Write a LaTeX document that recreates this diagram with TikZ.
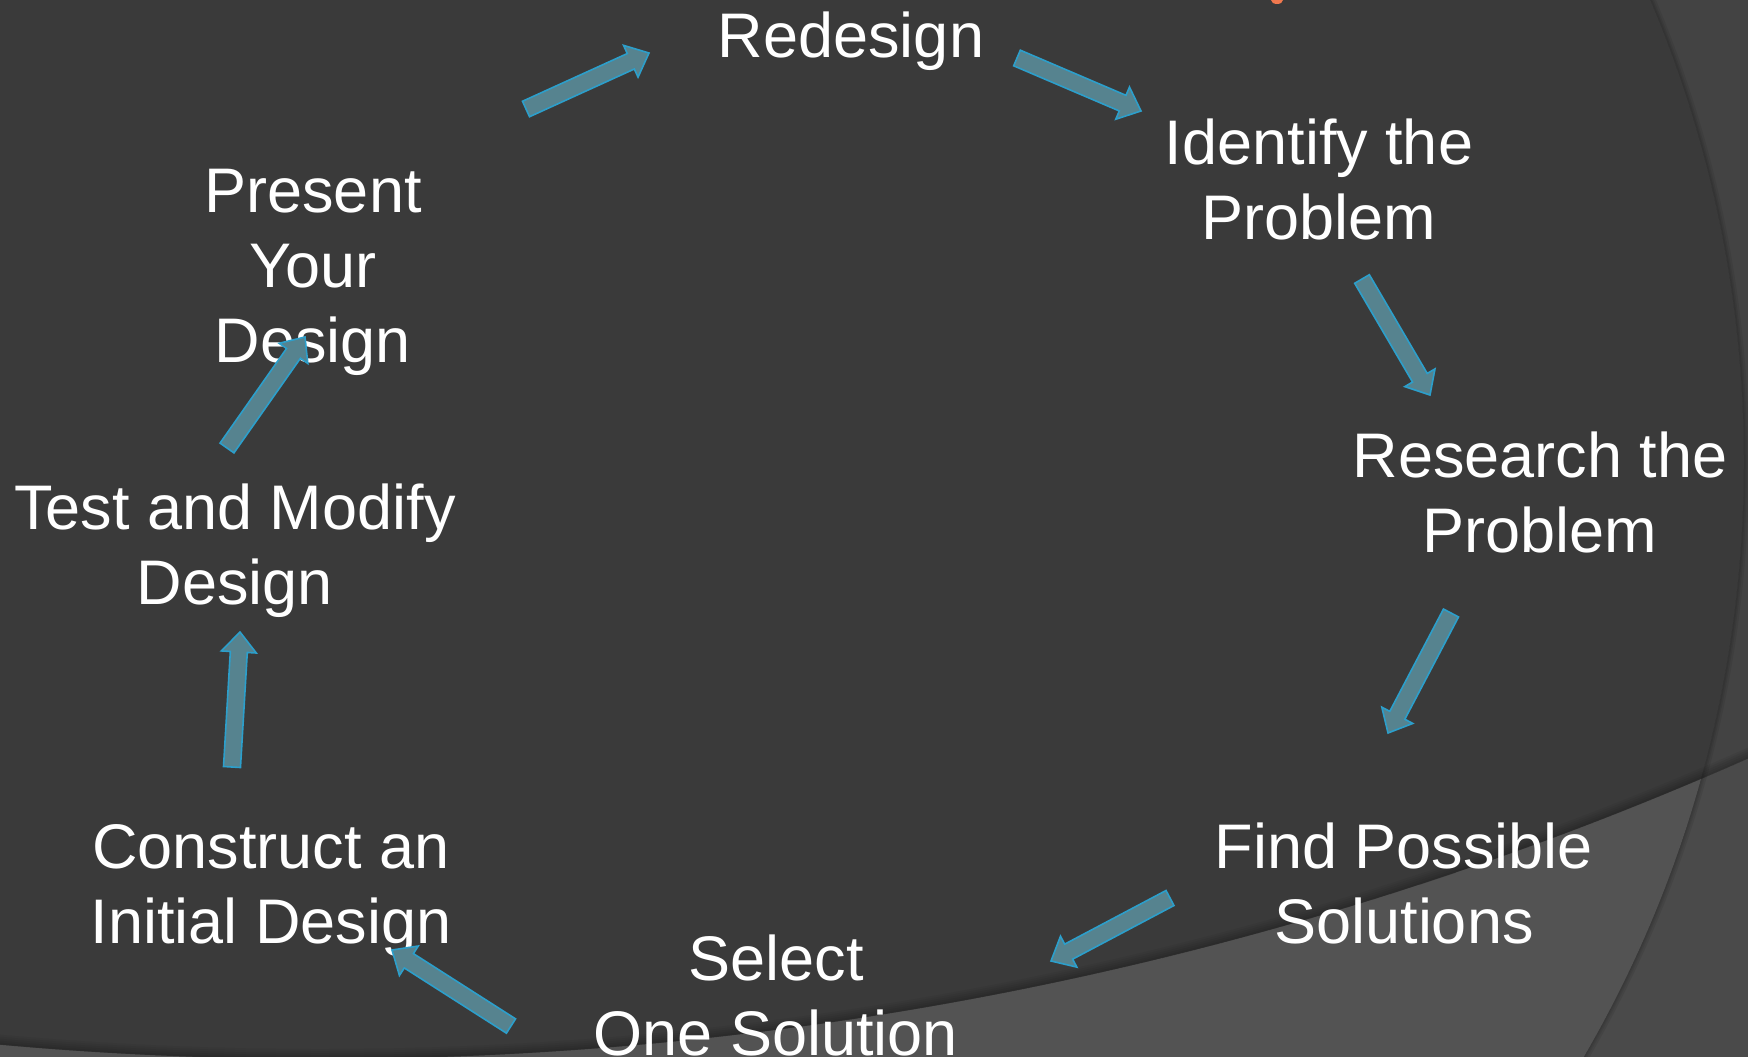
\documentclass[tikz,border=0pt]{standalone}
\usepackage{fontspec}
\setmainfont{Liberation Sans}
\usetikzlibrary{calc}
\definecolor{bgin}{HTML}{3A3A3A}
\definecolor{bgout}{HTML}{434343}
\definecolor{lowin}{HTML}{535353}
\definecolor{lowout}{HTML}{4A4A4A}
\definecolor{arrfill}{HTML}{56838F}
\definecolor{arrline}{HTML}{2C9FCB}
\definecolor{titleorange}{HTML}{F0784E}
\newcommand\blockarrow[2]{%
  \coordinate (#2-hb) at ($(#2)!20pt!(#1)$);
  \draw[barrow] ($(#1)!8.5pt!90:(#2)$) -- ($(#2-hb)!8.5pt!-90:(#1)$)
    -- ($(#2-hb)!17.5pt!-90:(#1)$) -- (#2) -- ($(#2-hb)!17.5pt!90:(#1)$)
    -- ($(#2-hb)!8.5pt!90:(#1)$) -- ($(#1)!8.5pt!-90:(#2)$) -- cycle;}
\tikzset{
  lbl/.style={text=white, font=\fontsize{63}{75}\selectfont, align=center, inner sep=0pt, anchor=base},
  barrow/.style={fill=arrfill, draw=arrline, line width=1.6pt, line join=miter},
}
\begin{document}
\begin{tikzpicture}[x=1pt,y=-1pt]
\useasboundingbox (0,0) rectangle (1748,1057);
\begin{scope}
  \clip (0,0) rectangle (1748,1057);
  \fill[bgout] (0,0) rectangle (1748,1057);
  \fill[lowout, even odd rule] (0,0) rectangle (1748,1057) (320,-2474) circle[radius=3533pt];
  \fill[bgin] (560,462) circle[radius=1184pt];
  \begin{scope}
    \clip (560,462) circle[radius=1184pt];
    \fill[lowin, even odd rule] (-10,-10) rectangle (1760,1070) (320,-2474) circle[radius=3533pt];
  \end{scope}
  \begin{scope}
    \clip (320,-2474) circle[radius=3533pt];
    \foreach \w in {4,8,12,16,20}
      \draw[black, opacity=0.05, line width=\w pt] (320,-2474) circle[radius=3533pt];
  \end{scope}
  \begin{scope}[even odd rule]
    \clip (-10,-10) rectangle (1760,1070) (560,462) circle[radius=1184pt];
    \foreach \w in {3,6,10}
      \draw[black, opacity=0.07, line width=\w pt] (560,462) circle[radius=1184pt];
  \end{scope}
  \fill[titleorange] (1277,0) ellipse[x radius=6pt, y radius=4pt];
\end{scope}

\node[lbl] (redesign)  at (851,58)  {Redesign};
\node[lbl] (identify)  at (1319,239) {Identify the\\Problem};
\node[lbl] (research)  at (1540,552) {Research the\\Problem};
\node[lbl] (find)      at (1404,943) {Find Possible\\Solutions};
\node[lbl] (select)    at (776,1055) {Select\\One Solution};
\node[lbl] (construct) at (271,943)  {Construct an\\Initial Design};
\node[lbl] (test)      at (235,604)  {Test and Modify\\Design};
\node[lbl] (present)   at (313,362)  {Present\\Your\\Design};

\coordinate (a1s) at (526,109);  \coordinate (a1e) at (649,53);
\coordinate (a2s) at (1017,58);  \coordinate (a2e) at (1141,111);
\coordinate (a3s) at (1362,279); \coordinate (a3e) at (1430,395);
\coordinate (a4s) at (1451,613); \coordinate (a4e) at (1388,733);
\coordinate (a5s) at (1170,898); \coordinate (a5e) at (1051,961);
\coordinate (a6s) at (511,1026); \coordinate (a6e) at (392,950);
\coordinate (a7s) at (232,767);  \coordinate (a7e) at (240,632);
\coordinate (a8s) at (227,448);  \coordinate (a8e) at (305,337);
\blockarrow{a1s}{a1e}
\blockarrow{a2s}{a2e}
\blockarrow{a3s}{a3e}
\blockarrow{a4s}{a4e}
\blockarrow{a5s}{a5e}
\blockarrow{a6s}{a6e}
\blockarrow{a7s}{a7e}
\blockarrow{a8s}{a8e}
\end{tikzpicture}
\end{document}
